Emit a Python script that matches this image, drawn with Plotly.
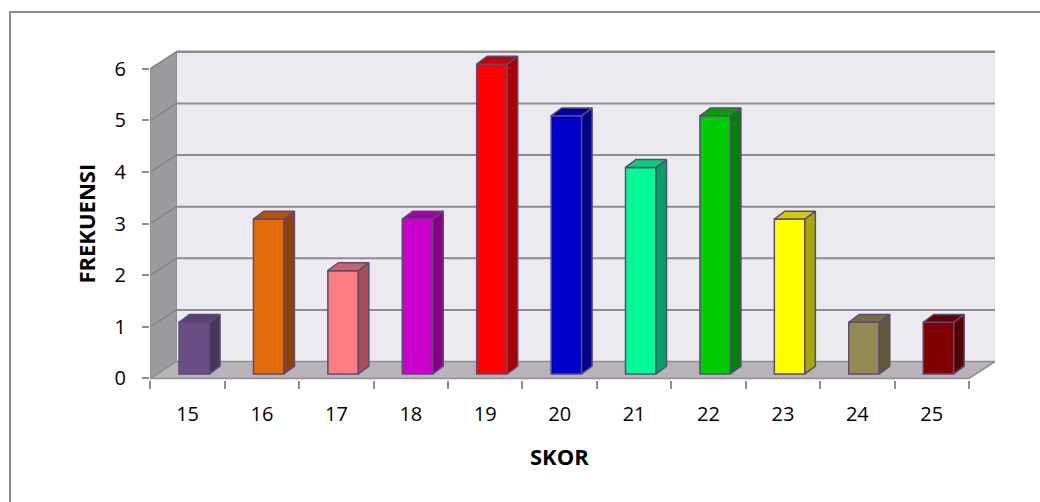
import plotly.graph_objects as go

# ---------------- data ----------------
skor = ["15", "16", "17", "18", "19", "20", "21", "22", "23", "24", "25"]
frekuensi = [1, 3, 2, 3, 6, 5, 4, 5, 3, 1, 1]
y_ticks = [0, 1, 2, 3, 4, 5, 6]
x_title = "SKOR"
y_title = "FREKUENSI"

# ---------------- styles ----------------
front_colors = ["#6A4F86", "#E36C0A", "#FF7C80", "#CC00CC", "#FF0000", "#0000CC",
                "#00FA96", "#00CC00", "#FFFF00", "#948A54", "#800000"]
side_colors = ["#45375A", "#8E4209", "#A65054", "#850085", "#A60000", "#000088",
                "#00A363", "#008300", "#A6A600", "#605936", "#520000"]
top_colors = ["#56426F", "#B35308", "#CC6367", "#A300A3", "#C80000", "#0000A0",
              "#00CF7C", "#00A300", "#CCCC00", "#766D43", "#650000"]
OUTLINE = "#5F497A"
FONT = "Open Sans"

W, H = 1040, 502
ML, MR, MT, MB = 150, 45, 46, 122
n = len(skor)
DX, DY = 0.35, 0.328          # depth of the 3D box (data units)
XMAX = n + DX
YMIN, YMAX = -0.03, 6.44
BAR_OFF, BAR_W = 0.59, 0.41   # bar centre within a category, bar width
F_DY = 0.087                  # bar front face lift (depth)
S_DX, S_DY = 0.141, 0.154     # bar side depth

fig = go.Figure()

# front faces
centers = [i + BAR_OFF for i in range(n)]
fig.add_trace(go.Bar(
    x=centers, y=frekuensi, base=F_DY, width=BAR_W,
    marker=dict(color=front_colors, line=dict(color=OUTLINE, width=1.5)),
    hoverinfo="skip", showlegend=False))

# side and top faces
for i, v in enumerate(frekuensi):
    xl = centers[i] - BAR_W / 2
    xr = centers[i] + BAR_W / 2
    b = F_DY
    t = F_DY + v
    fig.add_trace(go.Scatter(
        x=[xr, xr + S_DX, xr + S_DX, xr, xr],
        y=[b, b + S_DY, t + S_DY, t, b],
        fill="toself", fillcolor=side_colors[i], mode="lines",
        line=dict(color=OUTLINE, width=1.5), hoverinfo="skip", showlegend=False))
    fig.add_trace(go.Scatter(
        x=[xl, xr, xr + S_DX, xl + S_DX, xl],
        y=[t, t, t + S_DY, t + S_DY, t],
        fill="toself", fillcolor=top_colors[i], mode="lines",
        line=dict(color=OUTLINE, width=1.5), hoverinfo="skip", showlegend=False))

shapes = []
# back wall
shapes.append(dict(type="rect", xref="x", yref="y", x0=DX, x1=n + DX, y0=DY, y1=y_ticks[-1] + DY,
                   fillcolor="#ECEAF1", line=dict(color="#DEDDE2", width=1), layer="below"))
# left wall
shapes.append(dict(type="path", xref="x", yref="y",
                   path=f"M 0,0 L 0,{y_ticks[-1]} L {DX},{y_ticks[-1] + DY} L {DX},{DY} Z",
                   fillcolor="#9C9BA0", line=dict(color="#8A8A8E", width=1), layer="below"))
# floor
shapes.append(dict(type="path", xref="x", yref="y",
                   path=f"M 0,0 L {n},0 L {n + DX},{DY} L {DX},{DY} Z",
                   fillcolor="#B7B3B9", line=dict(color="#8E8E8E", width=1.5), layer="below"))
# gridlines
for k in y_ticks:
    if k > 0:
        shapes.append(dict(type="line", xref="x", yref="y", x0=DX, x1=n + DX, y0=k + DY, y1=k + DY,
                           line=dict(color="#8C8C8C", width=2.5 if k == y_ticks[-1] else 2), layer="below"))
        shapes.append(dict(type="line", xref="x", yref="y", x0=0, x1=DX, y0=k, y1=k + DY,
                           line=dict(color="#828286", width=1.5), layer="below"))
# outer chart border
pw = W - ML - MR
ph = H - MT - MB
shapes.append(dict(type="rect", xref="paper", yref="paper",
                   x0=(10 - ML) / pw, x1=(W + 10 - ML) / pw,
                   y0=-(H + 10 - MT - ph) / ph, y1=(H - MB - 12) / ph,
                   fillcolor="rgba(0,0,0,0)", line=dict(color="#8C8C8C", width=2), layer="below"))

annotations = [
    dict(text=f"<b>{x_title}</b>", xref="x", x=n / 2, yref="paper", y=(H - MB - 456) / ph,
         xanchor="center", yanchor="middle", showarrow=False,
         font=dict(family=FONT, size=22, color="#000")),
    dict(text=f"<b>{y_title}</b>", xref="paper", x=(86 - ML) / pw, yref="y", y=y_ticks[-1] / 2,
         xanchor="center", yanchor="middle", textangle=-90, showarrow=False,
         font=dict(family=FONT, size=22, color="#000")),
]

fig.update_layout(
    width=W, height=H,
    margin=dict(l=ML, r=MR, t=MT, b=MB, pad=0),
    paper_bgcolor="white", plot_bgcolor="white",
    shapes=shapes, annotations=annotations, showlegend=False,
    font=dict(family=FONT, size=20, color="#000000"),
    xaxis=dict(range=[-0.005, XMAX], showgrid=False, zeroline=False, showline=False,
               tickmode="array", tickvals=[i + 0.5 for i in range(n)], ticktext=skor,
               ticks="", ticklabelstandoff=20,
               tickfont=dict(family=FONT, size=20, color="#000"),
               minor=dict(tickmode="linear", tick0=0, dtick=1, ticks="outside", ticklen=8,
                          tickwidth=1.5, tickcolor="#8C8C8C", showgrid=False)),
    yaxis=dict(range=[YMIN, YMAX], showgrid=False, zeroline=False, showline=False,
               tickmode="array", tickvals=y_ticks, ticks="outside", ticklen=7,
               tickwidth=1.5, tickcolor="#8C8C8C", ticklabelstandoff=12,
               tickfont=dict(family=FONT, size=20, color="#000")),
)

fig.write_html("out.html")
